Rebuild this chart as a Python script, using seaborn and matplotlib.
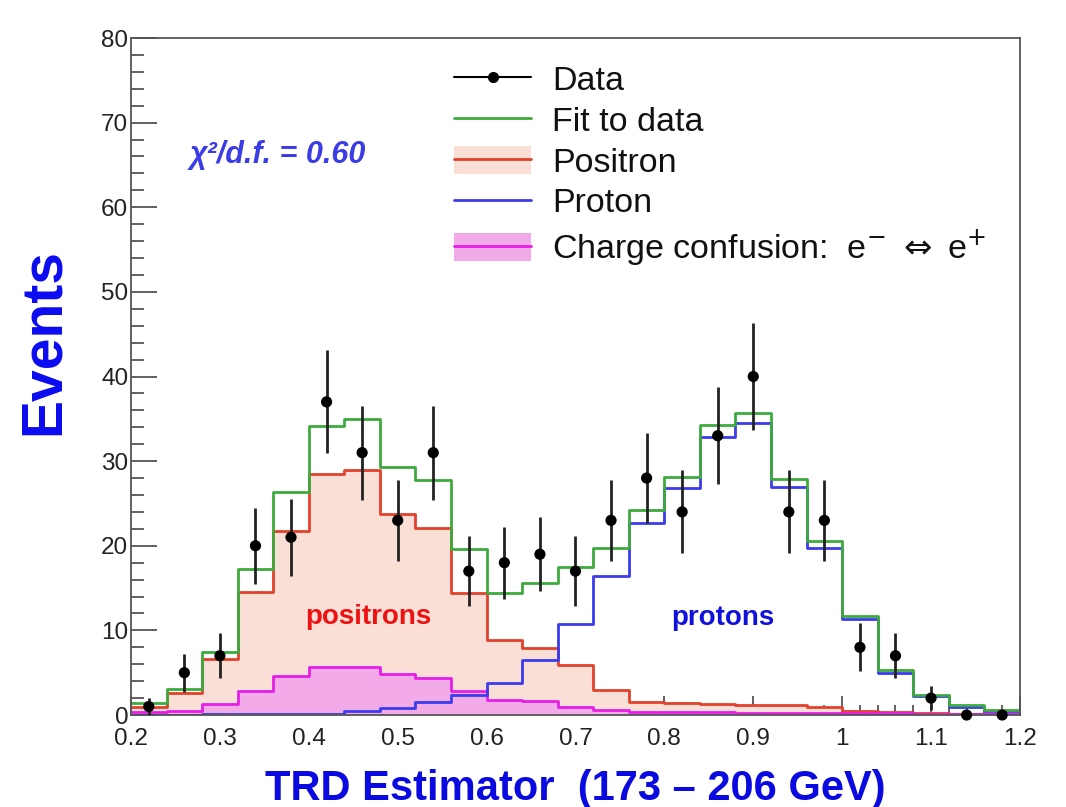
import numpy as np
import pandas as pd
import matplotlib
matplotlib.use("Agg")
import matplotlib.pyplot as plt
from matplotlib.lines import Line2D
from matplotlib.patches import Patch
from matplotlib.ticker import MultipleLocator, FuncFormatter
import seaborn as sns

# ---- histogram binning (TRD estimator) ----
bin_edges = [round(0.20 + 0.04 * i, 2) for i in range(26)]
bin_centers = [round(0.22 + 0.04 * i, 2) for i in range(25)]

# ---- event counts per bin ----
data_counts = [1, 5, 7, 20, 21, 37, 31, 23, 31, 17, 18, 19, 17,
               23, 28, 24, 33, 40, 24, 23, 8, 7, 2, 0, 0]

fit_total = [1.4, 3.1, 7.5, 17.3, 26.4, 34.2, 35.0, 29.3, 27.8, 19.6, 14.4,
             15.6, 17.5, 19.7, 24.2, 28.1, 34.3, 35.7, 27.9, 20.6, 11.7,
             5.3, 2.4, 1.2, 0.6]

positron = [1.0, 2.6, 6.6, 14.5, 21.7, 28.5, 29.0, 23.8, 22.1, 14.4, 8.9,
            7.9, 5.9, 3.0, 1.5, 1.4, 1.3, 1.2, 1.2, 0.9, 0.5, 0.3, 0.2,
            0.1, 0.1]

proton = [0.05, 0.05, 0.1, 0.1, 0.1, 0.1, 0.5, 0.8, 1.5, 2.4, 3.8, 6.5,
          10.8, 16.4, 22.7, 26.8, 32.9, 34.5, 26.9, 19.7, 11.3, 5.0, 2.2,
          1.0, 0.5]

charge_confusion = [0.3, 0.5, 1.3, 2.8, 4.6, 5.7, 5.7, 4.8, 4.4, 2.8, 1.8,
                    1.6, 1.0, 0.6, 0.4, 0.3, 0.3, 0.25, 0.2, 0.2, 0.2, 0.2,
                    0.1, 0.1, 0.1]

chi2_text = "χ²/d.f. = 0.60"

df = pd.DataFrame({
    "x": bin_centers,
    "data": data_counts,
    "fit": fit_total,
    "positron": positron,
    "proton": proton,
    "cc": charge_confusion,
})
df["err"] = np.sqrt(df["data"])

sns.set_theme(style="white")
plt.rcParams["font.family"] = ["Liberation Sans", "DejaVu Sans"]
plt.rcParams["mathtext.fontset"] = "dejavusans"

c_green = "#3daa3d"
c_red = "#e2412c"
c_blue = "#3b3bef"
c_mag = "#e61ee6"
f_red = "#fadfd7"
f_mag = "#f2abe8"

fig = plt.figure(figsize=(10.66, 8.07), dpi=100)
ax = fig.add_axes([0.1229, 0.114, 0.8339, 0.8389])

hist_kw = dict(x="x", bins=bin_edges, element="step", stat="count", ax=ax)

# filled templates
sns.histplot(data=df, weights="positron", fill=True, color=f_red, alpha=1,
             linewidth=0, **hist_kw)
sns.histplot(data=df, weights="cc", fill=True, color=f_mag, alpha=1,
             linewidth=0, **hist_kw)

# outlines
sns.histplot(data=df, weights="positron", fill=False, color=c_red, lw=2, **hist_kw)
sns.histplot(data=df, weights="cc", fill=False, color=c_mag, lw=2, **hist_kw)
sns.histplot(data=df, weights="proton", fill=False, color=c_blue, lw=2, **hist_kw)
sns.histplot(data=df, weights="fit", fill=False, color=c_green, lw=2, **hist_kw)

# data points with Poisson errors
ax.errorbar(df["x"], df["data"], yerr=df["err"], fmt="none", ecolor="#222222",
            elinewidth=2, capsize=0, zorder=5)
sns.scatterplot(data=df, x="x", y="data", color="black", s=65, edgecolor="none",
                ax=ax, zorder=6, clip_on=False)

ax.set_xlim(0.2, 1.2)
ax.set_ylim(0, 80)

# axes styling
for sp in ax.spines.values():
    sp.set_color("#555555")
    sp.set_linewidth(1.3)
ax.xaxis.set_major_locator(MultipleLocator(0.1))
ax.xaxis.set_minor_locator(MultipleLocator(0.02))
ax.yaxis.set_major_locator(MultipleLocator(10))
ax.yaxis.set_minor_locator(MultipleLocator(2))
ax.xaxis.set_major_formatter(FuncFormatter(lambda v, p: f"{v:g}"))
ax.yaxis.set_major_formatter(FuncFormatter(lambda v, p: f"{v:g}"))
ax.tick_params(axis="both", which="both", direction="in", color="#555555",
               width=1.3, labelcolor="#222222", labelsize=17.5,
               bottom=True, left=True, top=False, right=False)
ax.tick_params(axis="x", which="major", length=14, pad=9)
ax.tick_params(axis="x", which="minor", length=7)
ax.tick_params(axis="y", which="major", length=18.5, pad=2)
ax.tick_params(axis="y", which="minor", length=9.5)

ax.set_xlabel("TRD Estimator  (173 – 206 GeV)", fontsize=30, fontweight="bold",
              color="#0a0ae0", labelpad=14)
ax.set_ylabel("Events", fontsize=41, fontweight="bold", color="#0b0bf0")
ax.yaxis.set_label_coords(-0.068, 0.552)

# annotations
ax.text(0.066, 0.827, chi2_text, transform=ax.transAxes, fontsize=22,
        fontweight="bold", fontstyle="italic", color="#3c3ce6",
        va="center", ha="left")
ax.text(0.4666, 11.6, "positrons", fontsize=20, fontweight="bold",
        color="#ee1111", ha="center", va="center")
ax.text(0.866, 11.5, "protons", fontsize=20, fontweight="bold",
        color="#1010dd", ha="center", va="center")

# legend
h_data = Line2D([], [], color="black", lw=1.5, marker="o", markersize=7)
h_fit = Line2D([], [], color=c_green, lw=2)
h_pos = (Patch(facecolor=f_red, edgecolor="none"), Line2D([], [], color=c_red, lw=2))
h_pro = Line2D([], [], color=c_blue, lw=2)
h_cc = (Patch(facecolor=f_mag, edgecolor="none"), Line2D([], [], color=c_mag, lw=2))
leg = ax.legend([h_data, h_fit, h_pos, h_pro, h_cc],
                ["Data", "Fit to data", "Positron", "Proton",
                 r"Charge confusion:  e$^{-}$ $\Leftrightarrow$ e$^{+}$"],
                loc="upper left", bbox_to_anchor=(0.337, 0.996), frameon=False,
                fontsize=24.5, handlelength=2.25, handletextpad=0.62,
                labelspacing=0.23, handleheight=0.9, borderpad=0.2)
for t in leg.get_texts():
    t.set_color("#111111")

fig.savefig("out.png", dpi=100, facecolor="white")
